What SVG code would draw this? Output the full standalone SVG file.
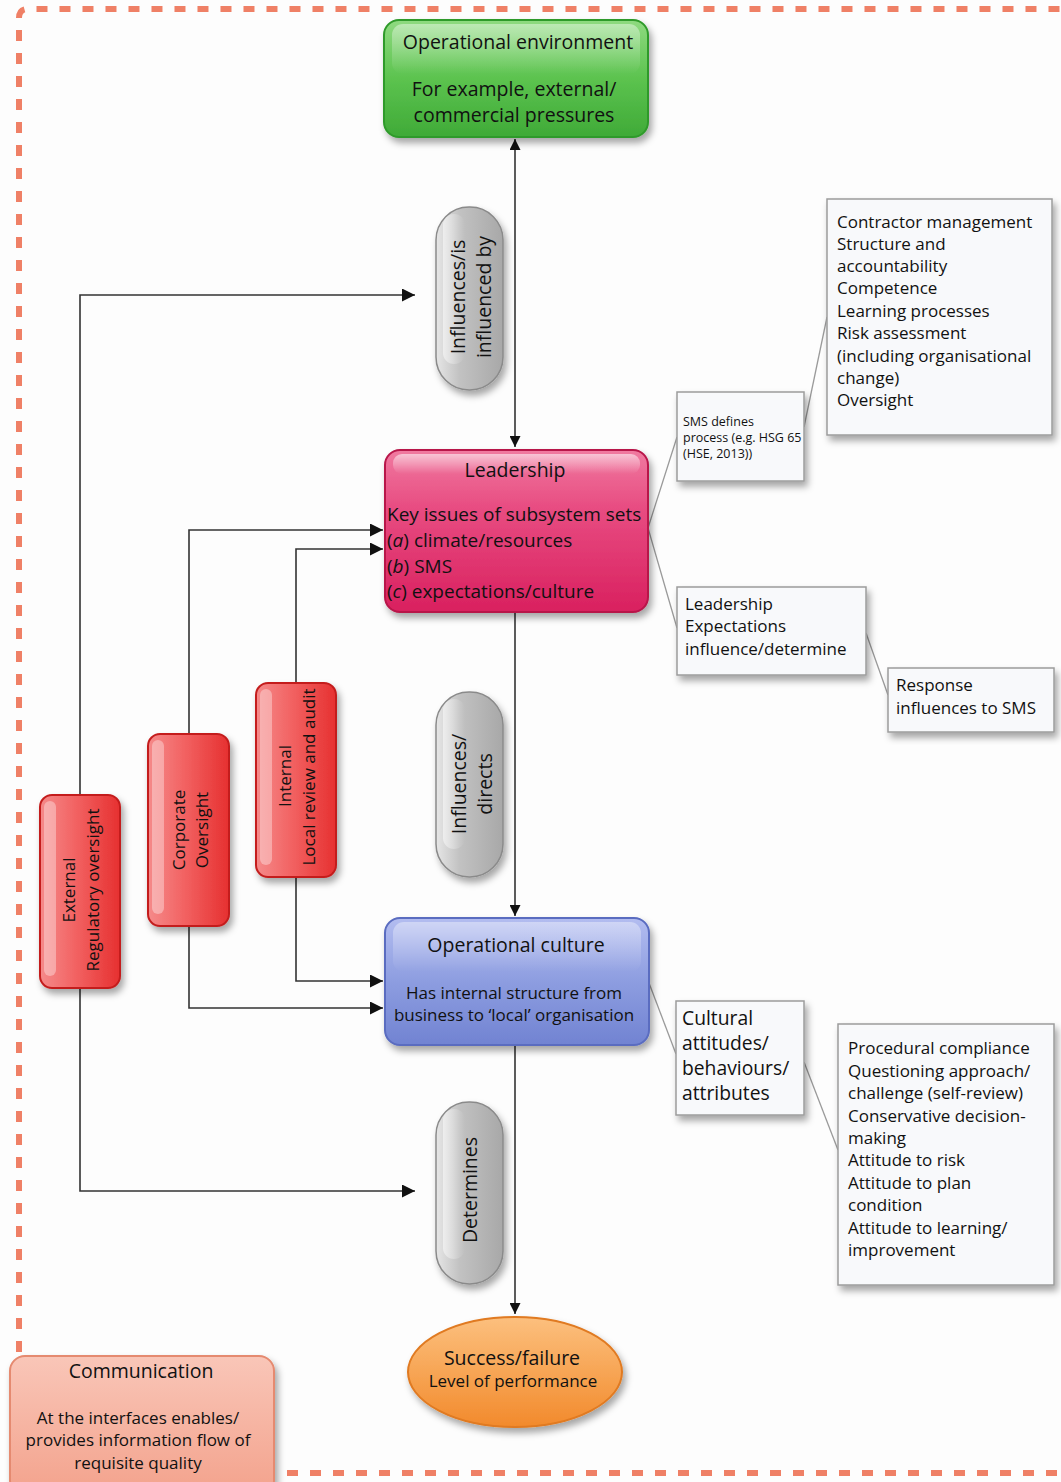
<svg xmlns="http://www.w3.org/2000/svg" width="1061" height="1482" viewBox="0 0 1061 1482">
<defs>
<style>
text{font-family:"Open Sans","Noto Sans","Liberation Sans",sans-serif;fill:#111}
.t20{font-size:19.5px}
.t19{font-size:19px}
.t17{font-size:17px}
.t12{font-size:12.5px}
.mid{text-anchor:middle}
.conn{fill:none;stroke:#333;stroke-width:1.6}
.thin{fill:none;stroke:#9a9a9a;stroke-width:1.3}
.note{fill:#f8f9fb;stroke:#9c9c9c;stroke-width:1.5}
.rot{text-anchor:middle;dominant-baseline:central}
</style>
<filter id="sh" x="-20%" y="-20%" width="140%" height="140%"><feDropShadow dx="3" dy="5" stdDeviation="3.5" flood-color="#000" flood-opacity="0.35"/></filter>
<linearGradient id="gGreen" x1="0" y1="0" x2="0" y2="1"><stop offset="0" stop-color="#8fda80"/><stop offset="0.5" stop-color="#5cc34f"/><stop offset="1" stop-color="#3faa37"/></linearGradient>
<linearGradient id="gPink" x1="0" y1="0" x2="0" y2="1"><stop offset="0" stop-color="#f07aa0"/><stop offset="0.35" stop-color="#e84d82"/><stop offset="1" stop-color="#d9205f"/></linearGradient>
<linearGradient id="gBlue" x1="0" y1="0" x2="0" y2="1"><stop offset="0" stop-color="#b3bdf0"/><stop offset="0.5" stop-color="#8d9de0"/><stop offset="1" stop-color="#7183d2"/></linearGradient>
<linearGradient id="gOrange" x1="0" y1="0" x2="0" y2="1"><stop offset="0" stop-color="#fcc07e"/><stop offset="1" stop-color="#f28a2c"/></linearGradient>
<linearGradient id="gComm" x1="0" y1="0" x2="0" y2="1"><stop offset="0" stop-color="#f9c6b8"/><stop offset="1" stop-color="#f3a28c"/></linearGradient>
<linearGradient id="gRed" x1="0" y1="0" x2="1" y2="0"><stop offset="0" stop-color="#f58a8a"/><stop offset="0.45" stop-color="#f26262"/><stop offset="1" stop-color="#e63030"/></linearGradient>
<linearGradient id="gGrey" x1="0" y1="0" x2="1" y2="0"><stop offset="0" stop-color="#e6e6e6"/><stop offset="0.35" stop-color="#c2c2c2"/><stop offset="1" stop-color="#a8a8a8"/></linearGradient>
<linearGradient id="gHi" x1="0" y1="0" x2="0" y2="1"><stop offset="0" stop-color="#fff" stop-opacity="0.7"/><stop offset="1" stop-color="#fff" stop-opacity="0"/></linearGradient>
<linearGradient id="gHiH" x1="0" y1="0" x2="1" y2="0"><stop offset="0" stop-color="#fff" stop-opacity="0.65"/><stop offset="1" stop-color="#fff" stop-opacity="0"/></linearGradient>
<marker id="ah" viewBox="0 0 10 10" refX="10" refY="5" markerWidth="11" markerHeight="11" markerUnits="userSpaceOnUse" orient="auto-start-reverse"><path d="M0,0 L10,5 L0,10 Z" fill="#111"/></marker>
<marker id="ahL" viewBox="0 0 10 10" refX="10" refY="5" markerWidth="14" markerHeight="13" markerUnits="userSpaceOnUse" orient="auto"><path d="M0,0 L10,5 L0,10 Z" fill="#111"/></marker>
</defs>
<rect width="1061" height="1482" fill="#fdfdfd"/>

<!-- dashed border -->
<g id="border" fill="none" stroke="#ef8066" stroke-width="6">
<path d="M19,1352 L19,18 Q19,9 28,9 L1061,9" stroke-dasharray="11 12"/>
<path d="M287,1473 L1061,1473" stroke-dasharray="11 12"/>
</g>

<!-- connectors -->
<g id="connectors">
<line class="conn" x1="515" y1="139" x2="515" y2="447" marker-start="url(#ah)" marker-end="url(#ah)"/>
<line class="conn" x1="515" y1="612" x2="515" y2="916" marker-end="url(#ah)"/>
<line class="conn" x1="515" y1="1045" x2="515" y2="1314" marker-end="url(#ah)"/>
<polyline class="conn" points="80,795 80,295 415,295" marker-end="url(#ahL)"/>
<polyline class="conn" points="80,988 80,1191 415,1191" marker-end="url(#ahL)"/>
<polyline class="conn" points="189,734 189,530 383,530" marker-end="url(#ahL)"/>
<polyline class="conn" points="189,926 189,1008 383,1008" marker-end="url(#ahL)"/>
<polyline class="conn" points="296,683 296,549 383,549" marker-end="url(#ahL)"/>
<polyline class="conn" points="296,877 296,981 383,981" marker-end="url(#ahL)"/>
<polyline class="thin" points="677,437 648,528 677,628"/>
<line class="thin" x1="804" y1="427" x2="827" y2="317"/>
<line class="thin" x1="866" y1="633" x2="888" y2="695"/>
<line class="thin" x1="649" y1="983" x2="676" y2="1054"/>
<line class="thin" x1="804" y1="1062" x2="838" y2="1150"/>
</g>

<!-- Operational environment -->
<g id="op-environment">
<rect x="384" y="20" width="264" height="117" rx="15" fill="url(#gGreen)" stroke="#2f9a2a" stroke-width="2" filter="url(#sh)"/>
<rect x="392" y="24" width="248" height="50" rx="11" fill="url(#gHi)" opacity="0.6"/>
<text class="t20 mid" x="518" y="49">Operational environment</text>
<text class="t20 mid" x="514" y="96">For example, external/</text>
<text class="t20 mid" x="514" y="122">commercial pressures</text>
</g>

<!-- pill 1 -->
<g id="pill-influences-is">
<rect x="436" y="207" width="67" height="183" rx="33" fill="url(#gGrey)" stroke="#8a8a8a" stroke-width="1.5" filter="url(#sh)"/>
<rect x="443" y="214" width="22" height="150" rx="11" fill="url(#gHiH)" opacity="0.8"/>
<text class="t20 rot" transform="translate(457,297) rotate(-90)">Influences/is</text>
<text class="t20 rot" transform="translate(483,297) rotate(-90)">influenced by</text>
</g>

<!-- Leadership -->
<g id="leadership">
<rect x="385" y="450" width="263" height="162" rx="15" fill="url(#gPink)" stroke="#b8154a" stroke-width="2" filter="url(#sh)"/>
<rect x="393" y="454" width="247" height="20" rx="9" fill="url(#gHi)" opacity="0.8"/>
<text class="t20 mid" x="515" y="477">Leadership</text>
<text class="t19" x="387" y="521">Key issues of subsystem sets</text>
<text class="t19" x="387" y="547">(<tspan font-style="italic">a</tspan>) climate/resources</text>
<text class="t19" x="387" y="573">(<tspan font-style="italic">b</tspan>) SMS</text>
<text class="t19" x="387" y="598">(<tspan font-style="italic">c</tspan>) expectations/culture</text>
</g>

<!-- pill 2 -->
<g id="pill-influences-directs">
<rect x="436" y="692" width="67" height="185" rx="33" fill="url(#gGrey)" stroke="#8a8a8a" stroke-width="1.5" filter="url(#sh)"/>
<rect x="443" y="699" width="22" height="150" rx="11" fill="url(#gHiH)" opacity="0.8"/>
<text class="t20 rot" transform="translate(458,784) rotate(-90)">Influences/</text>
<text class="t20 rot" transform="translate(484,784) rotate(-90)">directs</text>
</g>

<!-- Operational culture -->
<g id="op-culture">
<rect x="385" y="918" width="264" height="127" rx="15" fill="url(#gBlue)" stroke="#5a6cc0" stroke-width="2" filter="url(#sh)"/>
<rect x="393" y="922" width="248" height="50" rx="11" fill="url(#gHi)" opacity="0.55"/>
<text class="t20 mid" x="516" y="952">Operational culture</text>
<text class="t17 mid" x="514" y="999">Has internal structure from</text>
<text class="t17 mid" x="514" y="1021">business to ‘local’ organisation</text>
</g>

<!-- pill 3 -->
<g id="pill-determines">
<rect x="436" y="1102" width="67" height="182" rx="33" fill="url(#gGrey)" stroke="#8a8a8a" stroke-width="1.5" filter="url(#sh)"/>
<rect x="443" y="1109" width="22" height="150" rx="11" fill="url(#gHiH)" opacity="0.8"/>
<text class="t20 rot" transform="translate(469,1190) rotate(-90)">Determines</text>
</g>

<!-- Success/failure -->
<g id="success-failure">
<ellipse cx="515" cy="1372" rx="107" ry="55" fill="url(#gOrange)" stroke="#e07a20" stroke-width="2" filter="url(#sh)"/>
<text class="t20 mid" x="512" y="1365">Success/failure</text>
<text class="t17 mid" x="513" y="1387">Level of performance</text>
</g>

<!-- Communication -->
<g id="communication">
<rect x="10" y="1356" width="264" height="140" rx="15" fill="url(#gComm)" stroke="#e58a70" stroke-width="2" filter="url(#sh)"/>
<text class="t20 mid" x="141" y="1378">Communication</text>
<text class="t17 mid" x="138" y="1424">At the interfaces enables/</text>
<text class="t17 mid" x="138" y="1446">provides information flow of</text>
<text class="t17 mid" x="138" y="1469">requisite quality</text>
</g>

<!-- Red boxes -->
<g id="external">
<rect x="40" y="795" width="80" height="193" rx="12" fill="url(#gRed)" stroke="#c41e1e" stroke-width="2" filter="url(#sh)"/>
<rect x="44" y="801" width="12" height="175" rx="6" fill="#fff" opacity="0.35"/>
<text class="t17 rot" font-size="18.5" transform="translate(68,890) rotate(-90)">External</text>
<text class="t17 rot" font-size="18.5" transform="translate(92,890) rotate(-90)">Regulatory oversight</text>
</g>
<g id="corporate">
<rect x="148" y="734" width="81" height="192" rx="12" fill="url(#gRed)" stroke="#c41e1e" stroke-width="2" filter="url(#sh)"/>
<rect x="152" y="740" width="12" height="174" rx="6" fill="#fff" opacity="0.35"/>
<text class="t17 rot" font-size="18.5" transform="translate(178,830) rotate(-90)">Corporate</text>
<text class="t17 rot" font-size="18.5" transform="translate(201,830) rotate(-90)">Oversight</text>
</g>
<g id="internal">
<rect x="256" y="683" width="80" height="194" rx="12" fill="url(#gRed)" stroke="#c41e1e" stroke-width="2" filter="url(#sh)"/>
<rect x="260" y="689" width="12" height="176" rx="6" fill="#fff" opacity="0.35"/>
<text class="t17 rot" font-size="18.5" transform="translate(284,776) rotate(-90)">Internal</text>
<text class="t17 rot" font-size="18.5" transform="translate(308,777) rotate(-90)">Local review and audit</text>
</g>

<!-- Notes -->
<g id="note-sms">
<rect class="note" x="677" y="392" width="127" height="89" filter="url(#sh)"/>
<text class="t12" x="683" y="426">SMS defines</text>
<text class="t12" x="683" y="442">process (e.g. HSG 65</text>
<text class="t12" x="683" y="458">(HSE, 2013))</text>
</g>
<g id="note-contractor">
<rect class="note" x="827" y="199" width="225" height="236" filter="url(#sh)"/>
<text class="t17" x="837" y="228">Contractor management</text>
<text class="t17" x="837" y="250">Structure and</text>
<text class="t17" x="837" y="272">accountability</text>
<text class="t17" x="837" y="294">Competence</text>
<text class="t17" x="837" y="317">Learning processes</text>
<text class="t17" x="837" y="339">Risk assessment</text>
<text class="t17" x="837" y="362">(including organisational</text>
<text class="t17" x="837" y="384">change)</text>
<text class="t17" x="837" y="406">Oversight</text>
</g>
<g id="note-leadership-exp">
<rect class="note" x="677" y="587" width="189" height="88" filter="url(#sh)"/>
<text class="t17" x="685" y="610">Leadership</text>
<text class="t17" x="685" y="632">Expectations</text>
<text class="t17" x="685" y="655">influence/determine</text>
</g>
<g id="note-response">
<rect class="note" x="888" y="668" width="166" height="64" filter="url(#sh)"/>
<text class="t17" x="896" y="691">Response</text>
<text class="t17" x="896" y="714">influences to SMS</text>
</g>
<g id="note-cultural">
<rect class="note" x="676" y="1001" width="128" height="114" filter="url(#sh)"/>
<text x="682" y="1025" font-size="19.3">Cultural</text>
<text x="682" y="1050" font-size="19.3">attitudes/</text>
<text x="682" y="1075" font-size="19.3">behaviours/</text>
<text x="682" y="1100" font-size="19.3">attributes</text>
</g>
<g id="note-procedural">
<rect class="note" x="838" y="1024" width="216" height="261" filter="url(#sh)"/>
<text class="t17" x="848" y="1054">Procedural compliance</text>
<text class="t17" x="848" y="1077">Questioning approach/</text>
<text class="t17" x="848" y="1099">challenge (self-review)</text>
<text class="t17" x="848" y="1122">Conservative decision-</text>
<text class="t17" x="848" y="1144">making</text>
<text class="t17" x="848" y="1166">Attitude to risk</text>
<text class="t17" x="848" y="1189">Attitude to plan</text>
<text class="t17" x="848" y="1211">condition</text>
<text class="t17" x="848" y="1234">Attitude to learning/</text>
<text class="t17" x="848" y="1256">improvement</text>
</g>
</svg>
